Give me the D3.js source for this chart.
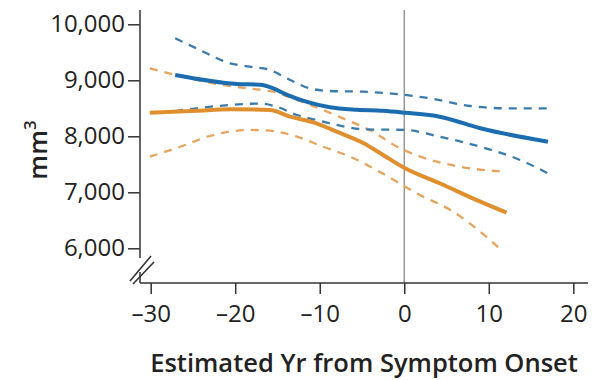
<!DOCTYPE html>
<html>
<head>
<meta charset="utf-8">
<script src="https://cdn.jsdelivr.net/npm/d3@7"></script>
<style>
  body { margin: 0; background: #fff; }
  svg text { font-family: "Open Sans", "Noto Sans", sans-serif; fill: #222; }
</style>
</head>
<body>
<div id="chart"></div>
<script>
// Data (years from symptom onset, volume in mm3)
const xTicks = [-30, -20, -10, 0, 10, 20];
const yTicks = [6000, 7000, 8000, 9000, 10000];

const blueMid = [[-27.1, 9095], [-19.8, 8934], [-17.1, 8920], [-15.5, 8857], [-14.0, 8750], [-11.2, 8600],
  [-8.8, 8518], [-5.6, 8475], [-2.5, 8457], [0.1, 8421], [4.2, 8350], [9.0, 8143], [17.0, 7904]];
const blueUpper = [[-27.1, 9750], [-24.6, 9571], [-20.6, 9304], [-18.3, 9243], [-15.9, 9184], [-13.5, 9005],
  [-11.2, 8857], [-8.8, 8809], [-4.8, 8796], [0.1, 8738], [3.0, 8679], [7.8, 8541], [12.1, 8500], [17.0, 8500]];
const blueLower = [[-27.1, 8450], [-24.6, 8500], [-20.6, 8559], [-17.1, 8585], [-15.1, 8530], [-12.7, 8380],
  [-10.4, 8291], [-8.0, 8202], [-4.8, 8125], [0.1, 8113], [4.2, 7993], [9.0, 7814], [13.7, 7577], [17.0, 7339]];

const orangeMid = [[-30.1, 8421], [-24.6, 8457], [-20.6, 8482], [-15.9, 8470], [-13.5, 8350], [-10.4, 8232],
  [-8.0, 8083], [-4.8, 7875], [-2.5, 7666], [0.1, 7429], [4.2, 7161], [9.0, 6832], [12.1, 6636]];
const orangeUpper = [[-30.1, 9214], [-27.1, 9095], [-22.6, 8946], [-18.6, 8857], [-15.5, 8796], [-12.7, 8648],
  [-9.6, 8470], [-6.8, 8291], [-4.1, 8113], [-0.5, 7786], [1.9, 7636], [6.6, 7457], [11.7, 7368]];
const orangeLower = [[-30.1, 7636], [-26.5, 7814], [-22.6, 8023], [-18.3, 8113], [-15.9, 8100], [-12.7, 7993],
  [-9.6, 7814], [-6.4, 7636], [-3.3, 7398], [0.1, 7100], [1.1, 7011], [5.8, 6654], [9.7, 6207], [11.7, 5939]];

const W = 600, H = 380;
const axisX = 140, axisY = 283;

const svg = d3.select("#chart").append("svg")
    .attr("width", W)
    .attr("height", H);

// Scales
const x = d3.scaleLinear().domain([-30, 20]).range([150.7, 573.3]);
const y = d3.scaleLinear().domain([6000, 10000]).range([248.3, 24.3]);

// Zero line
svg.append("line")
    .attr("x1", x(0)).attr("x2", x(0))
    .attr("y1", 10).attr("y2", axisY)
    .attr("stroke", "#999").attr("stroke-width", 1.5);

// Y axis
const yAxis = svg.append("g")
    .attr("transform", `translate(${axisX},0)`)
    .call(d3.axisLeft(y).tickValues(yTicks).tickFormat(d3.format(",")).tickSize(12).tickPadding(3));
yAxis.select(".domain").remove();
yAxis.selectAll(".tick line").attr("stroke", "#333").attr("stroke-width", 1.5);
yAxis.selectAll(".tick text").attr("font-size", 24).attr("fill", "#222");

svg.append("line")
    .attr("x1", axisX).attr("x2", axisX)
    .attr("y1", 10).attr("y2", 258)
    .attr("stroke", "#333").attr("stroke-width", 1.5);
svg.append("line")
    .attr("x1", axisX).attr("x2", axisX)
    .attr("y1", 272).attr("y2", axisY)
    .attr("stroke", "#333").attr("stroke-width", 1.5);

// Axis break marks
[0, 3].forEach(off => {
    svg.append("line")
        .attr("x1", 130 + off).attr("x2", 151 + off)
        .attr("y1", 281 + off).attr("y2", 256 + off * 2)
        .attr("stroke", "#333").attr("stroke-width", 1.6);
});

// X axis
const xAxis = svg.append("g")
    .attr("transform", `translate(0,${axisY})`)
    .call(d3.axisBottom(x).tickValues(xTicks).tickFormat(d => d < 0 ? "\u2013" + Math.abs(d) : d).tickSize(11).tickPadding(11));
xAxis.select(".domain").remove();
xAxis.selectAll(".tick line").attr("stroke", "#333").attr("stroke-width", 1.5);
xAxis.selectAll(".tick text").attr("font-size", 24).attr("fill", "#222");

svg.append("line")
    .attr("x1", axisX).attr("x2", 588)
    .attr("y1", axisY).attr("y2", axisY)
    .attr("stroke", "#333").attr("stroke-width", 1.5);

// Axis titles
svg.append("text")
    .attr("x", 364).attr("y", 372)
    .attr("text-anchor", "middle")
    .attr("font-size", 25.5).attr("font-weight", 600)
    .text("Estimated Yr from Symptom Onset");

const yTitle = svg.append("text")
    .attr("transform", "translate(47,150) rotate(-90)")
    .attr("text-anchor", "middle")
    .attr("font-size", 26).attr("font-weight", 600);
yTitle.append("tspan").text("mm");
yTitle.append("tspan").attr("dy", -11).attr("font-size", 17).text("3");

// Lines
const line = d3.line().x(d => x(d[0])).y(d => y(d[1])).curve(d3.curveMonotoneX);

const series = [
    { data: orangeUpper, color: "#e6a55e", width: 2.3, dash: "8,7" },
    { data: orangeLower, color: "#e6a55e", width: 2.3, dash: "8,7" },
    { data: blueUpper, color: "#3b7bab", width: 2.3, dash: "8,7" },
    { data: blueLower, color: "#3b7bab", width: 2.3, dash: "8,7" },
    { data: orangeMid, color: "#e08f2f", width: 4, dash: null },
    { data: blueMid, color: "#1b6db0", width: 4, dash: null }
];

svg.selectAll(".series")
    .data(series)
    .enter()
    .append("path")
    .attr("class", "series")
    .attr("d", d => line(d.data))
    .attr("fill", "none")
    .attr("stroke", d => d.color)
    .attr("stroke-width", d => d.width)
    .attr("stroke-dasharray", d => d.dash)
    .attr("stroke-linecap", "butt");
</script>
</body>
</html>
